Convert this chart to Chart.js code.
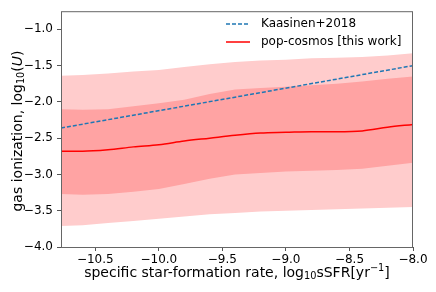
<!DOCTYPE html>
<html>
<head>
<meta charset="utf-8">
<script src="https://cdn.jsdelivr.net/npm/chart.js@4.4.0/dist/chart.umd.min.js"></script>
<style>
  html, body { margin: 0; padding: 0; background: #fff; }
  #wrap { width: 436px; height: 292px; }
</style>
</head>
<body>
<div id="wrap"><canvas id="grafico"></canvas></div>
<script>
// === Datos ===
const sSFR = [-10.77, -10.6, -10.4, -10.2, -10.0, -9.8, -9.6, -9.4, -9.2, -9.0, -8.8, -8.6, -8.4, -8.2, -8.0];
const mediana = [-2.68, -2.68, -2.66, -2.62, -2.59, -2.54, -2.50, -2.46, -2.43, -2.42, -2.41, -2.41, -2.40, -2.35, -2.31];
const sigma1Sup = [-2.10, -2.11, -2.10, -2.06, -2.02, -1.97, -1.89, -1.83, -1.81, -1.79, -1.77, -1.75, -1.72, -1.68, -1.65];
const sigma1Inf = [-3.27, -3.28, -3.27, -3.24, -3.20, -3.13, -3.06, -3.00, -2.98, -2.96, -2.95, -2.94, -2.92, -2.88, -2.84];
const sigma2Sup = [-1.64, -1.63, -1.61, -1.58, -1.56, -1.52, -1.48, -1.45, -1.43, -1.42, -1.40, -1.39, -1.38, -1.36, -1.33];
const sigma2Inf = [-3.71, -3.70, -3.67, -3.64, -3.61, -3.58, -3.55, -3.53, -3.51, -3.50, -3.49, -3.48, -3.47, -3.46, -3.45];
const kaasinenX = [-10.77, -8.0];
const kaasinenY = [-2.36, -1.50];

const FUENTE = "DejaVu Sans";
const TAM = 14;        // títulos de ejes
const TAM_TICKS = 12;  // marcas y leyenda
const puntos = (xs, ys) => xs.map((x, i) => ({ x, y: ys[i] }));
const menos = (v) => v.toFixed(1).replace("-", "\u2212");

// === Texto con subíndices / superíndices ===
function fuentePara(p) {
  const tam = (p.sub || p.sup) ? TAM * 0.7 : TAM;
  return `${p.it ? "italic " : ""}${tam}px "${FUENTE}"`;
}
function textoRico(ctx, partes, x, y) {
  let ancho = 0;
  partes.forEach(p => {
    ctx.font = fuentePara(p);
    ancho += ctx.measureText(p.t).width;
  });
  let cx = x - ancho / 2;
  partes.forEach(p => {
    ctx.font = fuentePara(p);
    let dy = 0;
    if (p.sub) dy = 3;
    if (p.sup) dy = -5;
    ctx.fillText(p.t, cx, y + dy);
    cx += ctx.measureText(p.t).width;
  });
}

const extras = {
  id: "extras",
  afterDraw(chart) {
    const { ctx, chartArea: a } = chart;
    ctx.save();
    // marco
    ctx.strokeStyle = "#666";
    ctx.lineWidth = 1;
    ctx.strokeRect(a.left + 0.5, a.top + 0.5, a.right - a.left - 1, a.bottom - a.top);

    ctx.fillStyle = "#000";
    ctx.textBaseline = "middle";
    ctx.textAlign = "left";
    // título eje x
    textoRico(ctx, [
      { t: "specific star-formation rate, log" },
      { t: "10", sub: true },
      { t: "sSFR[yr" },
      { t: "\u22121", sup: true },
      { t: "]" }
    ], (a.left + a.right) / 2, 273);

    // título eje y
    ctx.translate(18, 131);
    ctx.rotate(-Math.PI / 2);
    textoRico(ctx, [
      { t: "gas ionization, log" },
      { t: "10", sub: true },
      { t: "(" },
      { t: "U", it: true },
      { t: ")" }
    ], 0, 0);
    ctx.restore();

    // leyenda
    ctx.save();
    ctx.lineWidth = 1.5;
    ctx.strokeStyle = "#1f77b4";
    ctx.setLineDash([4, 2]);
    ctx.beginPath(); ctx.moveTo(226, 24); ctx.lineTo(250, 24); ctx.stroke();
    ctx.setLineDash([]);
    ctx.strokeStyle = "#ff0000";
    ctx.beginPath(); ctx.moveTo(226, 42); ctx.lineTo(250, 42); ctx.stroke();
    ctx.fillStyle = "#000";
    ctx.font = `${TAM_TICKS}px "${FUENTE}"`;
    ctx.textBaseline = "middle";
    ctx.fillText("Kaasinen+2018", 261, 24);
    ctx.fillText("pop-cosmos [this work]", 261, 42);
    ctx.restore();
  }
};

new Chart(document.getElementById("grafico"), {
  type: "line",
  data: {
    datasets: [
      {
        label: "Kaasinen+2018",
        data: puntos(kaasinenX, kaasinenY),
        borderColor: "#1f77b4",
        borderWidth: 1.5,
        borderDash: [4, 2],
        pointRadius: 0,
        fill: false,
        order: 1
      },
      {
        label: "pop-cosmos [this work]",
        data: puntos(sSFR, mediana),
        borderColor: "#ff0000",
        borderWidth: 1.5,
        pointRadius: 0,
        cubicInterpolationMode: "monotone",
        fill: false,
        order: 2
      },
      {
        data: puntos(sSFR, sigma1Sup),
        borderWidth: 0,
        pointRadius: 0,
        backgroundColor: "#ffa3a3",
        fill: 3,
        order: 3
      },
      {
        data: puntos(sSFR, sigma1Inf),
        borderWidth: 0,
        pointRadius: 0,
        fill: false,
        order: 4
      },
      {
        data: puntos(sSFR, sigma2Sup),
        borderWidth: 0,
        pointRadius: 0,
        backgroundColor: "#ffcccc",
        fill: 5,
        order: 5
      },
      {
        data: puntos(sSFR, sigma2Inf),
        borderWidth: 0,
        pointRadius: 0,
        fill: false,
        order: 6
      }
    ]
  },
  options: {
    responsive: true,
    maintainAspectRatio: false,
    animation: false,
    layout: { padding: { top: 8, right: 23, left: 0, bottom: 0 } },
    plugins: {
      legend: { display: false },
      tooltip: { enabled: false }
    },
    scales: {
      x: {
        type: "linear",
        min: -10.77,
        max: -8.0,
        ticks: {
          stepSize: 0.5,
          includeBounds: false,
          color: "#000",
          padding: 2,
          maxRotation: 0,
          font: { family: FUENTE, size: TAM_TICKS },
          callback: menos
        },
        grid: { drawOnChartArea: false, drawTicks: true, tickLength: 4, color: "#555" },
        border: { display: false },
        afterFit: (s) => { s.height = 45; }
      },
      y: {
        min: -4.0,
        max: -0.75,
        ticks: {
          stepSize: 0.5,
          includeBounds: false,
          color: "#000",
          padding: 4,
          font: { family: FUENTE, size: TAM_TICKS },
          callback: menos
        },
        grid: { drawOnChartArea: false, drawTicks: true, tickLength: 4, color: "#555" },
        border: { display: false },
        afterFit: (s) => { s.width = 61; }
      }
    }
  },
  plugins: [extras]
});
</script>
</body>
</html>
